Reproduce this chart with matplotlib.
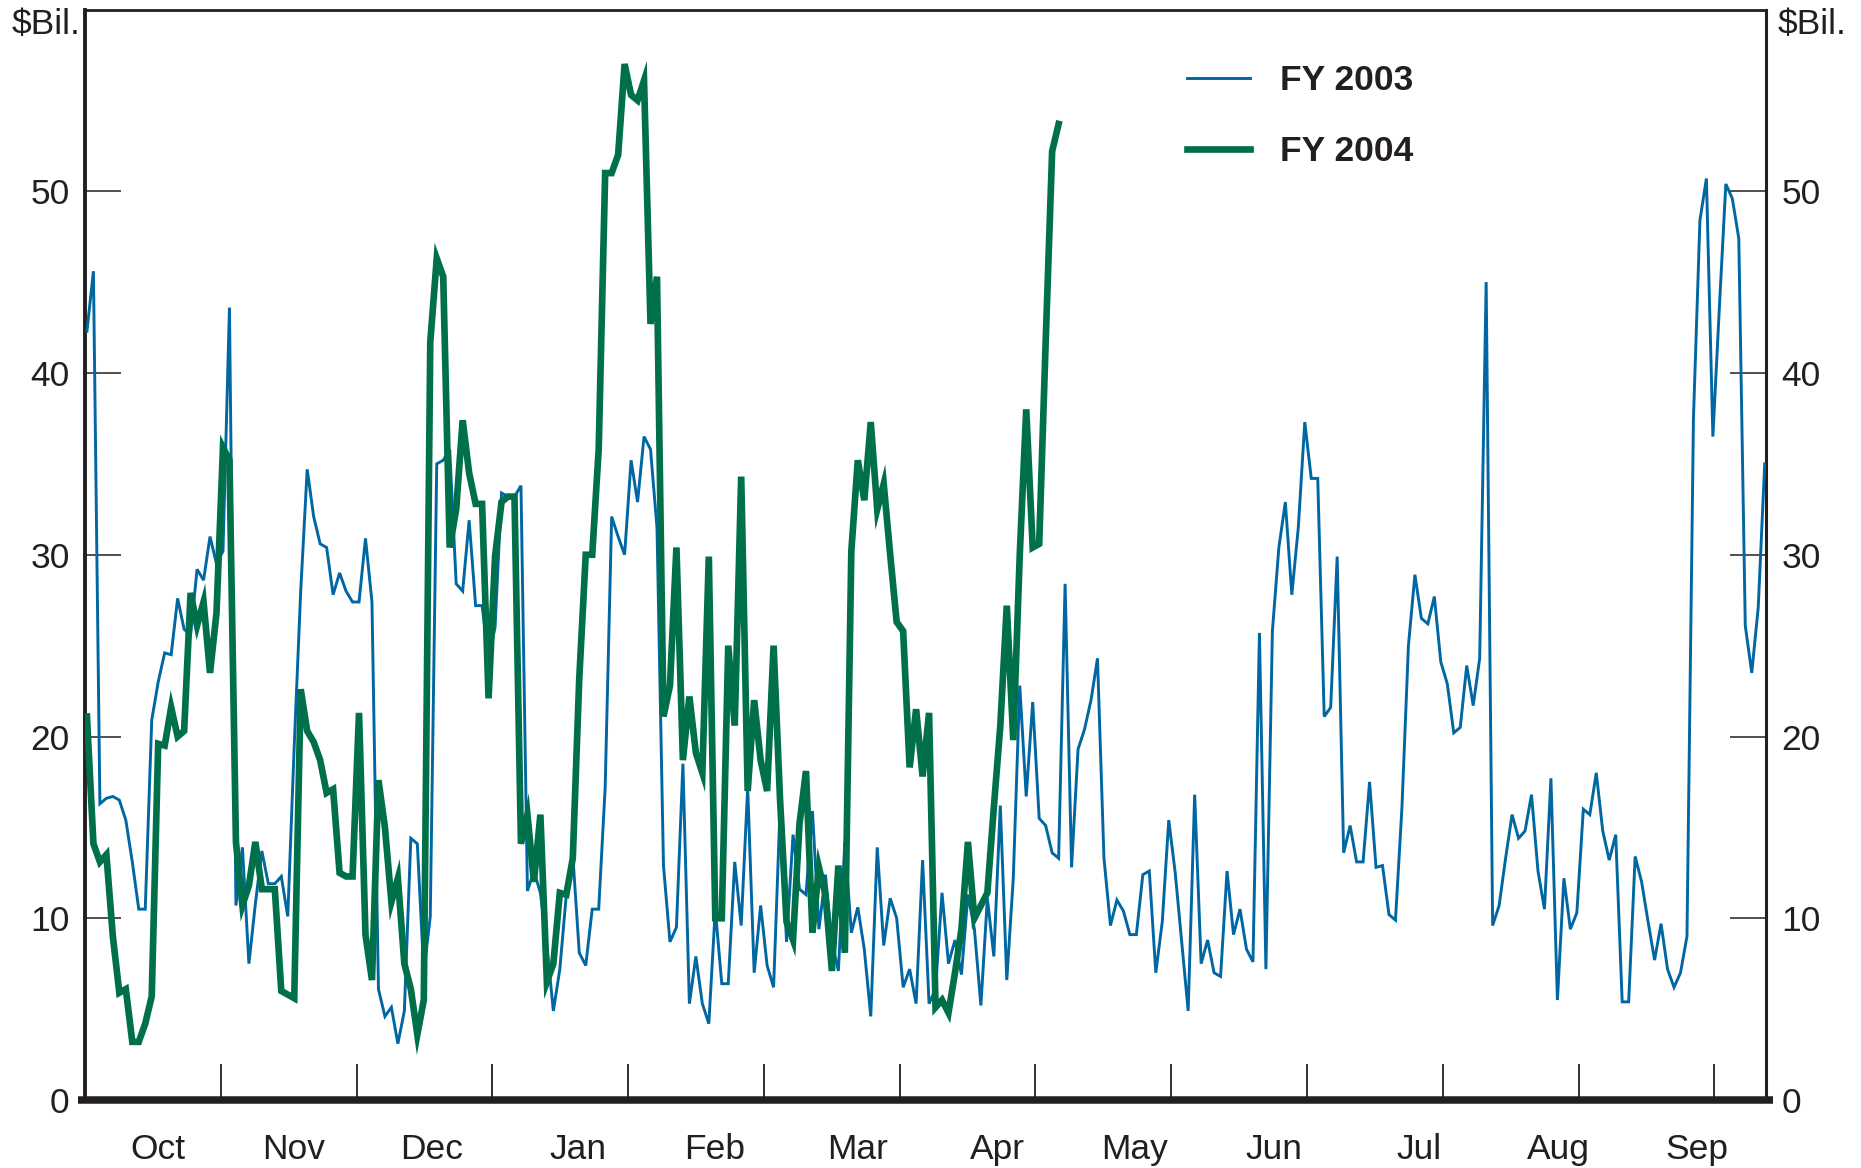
"""
Daily operating cash balance, FY 2003 vs FY 2004 ($ billions).
Two line series plotted on a business-day index, with month ticks
at the month boundaries and month names centred between them.
"""

import matplotlib

matplotlib.use("Agg")
import matplotlib.pyplot as plt

# ---- data -------------------------------------------------------------------
MONTHS = ["Oct", "Nov", "Dec", "Jan", "Feb", "Mar",
          "Apr", "May", "Jun", "Jul", "Aug", "Sep"]

# FY 2003, one value per business day
FY2003 = [
    42.3, 45.6, 16.3, 16.6, 16.7, 16.5, 15.4, 13.1, 10.5, 10.5,
    20.9, 23.0, 24.6, 24.5, 27.6, 25.9, 25.6, 29.2, 28.6, 31.0,
    29.5, 30.2, 43.6, 10.7, 13.9, 7.5, 10.8, 13.7, 11.9, 11.9,
    12.3, 10.1, 19.5, 28.0, 34.7, 32.1, 30.6, 30.4, 27.8, 29.0,
    28.0, 27.4, 27.4, 30.9, 27.4, 6.1, 4.6, 5.1, 3.1, 4.9,
    14.4, 14.1, 7.0, 10.1, 35.0, 35.2, 35.8, 28.4, 28.0, 31.9,
    27.2, 27.2, 24.3, 26.0, 33.4, 33.2, 33.2, 33.8, 11.5, 12.6,
    11.4, 8.5, 4.9, 7.2, 11.3, 13.5, 8.1, 7.4, 10.5, 10.5,
    17.2, 32.1, 31.0, 30.0, 35.2, 32.9, 36.5, 35.8, 31.5, 12.9,
    8.7, 9.5, 18.5, 5.3, 7.9, 5.3, 4.2, 10.5, 6.4, 6.4,
    13.1, 9.6, 17.2, 7.0, 10.7, 7.4, 6.2, 16.1, 8.7, 14.6,
    11.6, 11.3, 15.9, 9.4, 12.4, 8.7, 7.1, 14.2, 9.2, 10.6,
    8.3, 4.6, 13.9, 8.5, 11.1, 10.0, 6.2, 7.2, 5.3, 13.2,
    5.3, 6.1, 11.4, 7.5, 8.8, 6.9, 11.3, 9.4, 5.2, 11.1,
    7.9, 16.2, 6.6, 12.2, 22.8, 16.7, 21.9, 15.5, 15.1, 13.6,
    13.3, 28.4, 12.8, 19.3, 20.4, 22.0, 24.3, 13.3, 9.6, 11.0,
    10.4, 9.1, 9.1, 12.4, 12.6, 7.0, 9.8, 15.4, 12.5, 8.7,
    4.9, 16.8, 7.5, 8.8, 7.0, 6.8, 12.6, 9.1, 10.5, 8.3,
    7.6, 25.7, 7.2, 25.8, 30.4, 32.9, 27.8, 31.5, 37.3, 34.2,
    34.2, 21.1, 21.6, 29.9, 13.6, 15.1, 13.1, 13.1, 17.5, 12.8,
    12.9, 10.2, 9.9, 16.1, 25.0, 28.9, 26.5, 26.2, 27.7, 24.1,
    22.9, 20.2, 20.5, 23.9, 21.7, 24.3, 45.0, 9.6, 10.7, 13.3,
    15.7, 14.4, 14.8, 16.8, 12.6, 10.5, 17.7, 5.5, 12.2, 9.4,
    10.3, 16.0, 15.7, 18.0, 14.8, 13.2, 14.6, 5.4, 5.4, 13.4,
    12.0, 9.8, 7.7, 9.7, 7.2, 6.2, 7.0, 9.0, 37.5, 48.4,
    50.7, 36.5, 43.6, 50.4, 49.6, 47.4, 26.1, 23.5, 27.1, 35.0,
]

# FY 2004, through mid April
FY2004 = [
    21.1, 14.1, 13.1, 13.5, 9.0, 5.9, 6.1, 3.2, 3.2, 4.2,
    5.7, 19.6, 19.5, 21.6, 20.0, 20.3, 27.9, 26.1, 27.4, 23.5,
    26.8, 35.9, 35.2, 14.2, 10.7, 11.8, 14.2, 11.6, 11.6, 11.6,
    6.0, 5.8, 5.6, 22.6, 20.3, 19.7, 18.7, 16.9, 17.1, 12.5,
    12.3, 12.3, 21.3, 9.1, 6.6, 17.6, 15.0, 10.9, 12.2, 7.5,
    6.1, 3.6, 5.5, 41.7, 46.3, 45.3, 30.4, 32.5, 37.4, 34.5,
    32.8, 32.8, 22.1, 29.9, 32.9, 33.2, 33.2, 14.1, 15.7, 12.0,
    15.7, 6.5, 7.5, 11.4, 11.3, 13.3, 23.2, 30.0, 30.0, 35.8,
    51.0, 51.0, 52.0, 57.0, 55.3, 55.0, 56.1, 42.7, 45.3, 21.1,
    22.8, 30.4, 18.7, 22.2, 19.1, 18.0, 29.9, 10.0, 10.0, 25.0,
    20.6, 34.3, 17.0, 22.0, 18.7, 17.0, 25.0, 16.5, 9.8, 8.8,
    15.2, 18.1, 9.2, 12.8, 11.3, 7.1, 12.9, 8.1, 30.2, 35.2,
    33.0, 37.3, 32.5, 33.9, 30.0, 26.3, 25.8, 18.3, 21.5, 17.8,
    21.3, 5.1, 5.5, 4.8, 7.0, 9.4, 14.2, 10.0, 10.7, 11.4,
    16.1, 20.6, 27.2, 19.8, 30.0, 38.0, 30.4, 30.6, 41.7, 52.2,
    53.7,
]

Y_TICKS = [0, 10, 20, 30, 40, 50]

# ---- layout (business-day index units) ----------------------------------------
X_MIN, X_MAX = -0.3, 259.2
MONTH_STEP = 20.96                      # days between month boundary ticks
LABEL_POS = [10.97, 31.96, 53.27, 75.8, 96.95, 118.9,
             140.5, 161.8, 183.2, 205.7, 227.2, 248.5]

BLUE = "#0067a3"
GREEN = "#00704a"
INK = "#231f20"
FONT = "Liberation Sans"


def draw_chart(save_path: str = "out.png") -> None:
    """画图并保存"""
    plt.rcParams["font.family"] = [FONT, "DejaVu Sans"]

    fig = plt.figure(figsize=(18.61, 11.68), dpi=100)
    ax = fig.add_axes([85 / 1861, 1 - 1100 / 1168,
                       (1766 - 85) / 1861, (1100 - 9.5) / 1168])

    x03 = list(range(len(FY2003)))
    x04 = list(range(len(FY2004)))
    ax.plot(x03, FY2003, color=BLUE, lw=2.1, solid_joinstyle="miter",
            label="FY 2003", zorder=3)
    ax.plot(x04, FY2004, color=GREEN, lw=4.8, solid_joinstyle="miter",
            label="FY 2004", zorder=4)

    ax.set_xlim(X_MIN, X_MAX)
    ax.set_ylim(0, 60)

    # spines
    for side in ("left", "top", "right"):
        ax.spines[side].set_color(INK)
    ax.spines["left"].set_linewidth(2.8)
    ax.spines["top"].set_linewidth(2.0)
    ax.spines["right"].set_linewidth(2.2)
    ax.spines["bottom"].set_visible(False)
    # thick zero line, running a bit past both side spines
    ax.plot([-0.004, 1.004], [0, 0], transform=ax.get_yaxis_transform(),
            color=INK, lw=5.4, solid_capstyle="butt", clip_on=False, zorder=5)

    # y axis on both sides
    ax.set_yticks(Y_TICKS)
    ax.tick_params(axis="y", which="major", direction="in", length=26,
                   width=1.1, color=INK, labelsize=25.5, labelcolor=INK,
                   left=True, right=True, labelleft=True, labelright=True,
                   pad=11)

    # x axis: boundary ticks, labels in between
    month_ticks = [X_MIN + MONTH_STEP * k for k in range(1, 13)]
    ax.set_xticks(month_ticks)
    ax.set_xticklabels([])
    ax.set_xticks(LABEL_POS, minor=True)
    ax.set_xticklabels(MONTHS, minor=True)
    ax.tick_params(axis="x", which="major", direction="in", length=26,
                   width=1.3, color=INK)
    ax.tick_params(axis="x", which="minor", length=0, labelsize=25.5,
                   labelcolor=INK, pad=24)

    # unit labels
    fig.text(12 / 1861, 1 - 25 / 1168, "$Bil.", fontsize=25.5, color=INK,
             ha="left", va="center")
    fig.text(1778 / 1861, 1 - 25 / 1168, "$Bil.", fontsize=25.5, color=INK,
             ha="left", va="center")

    leg = ax.legend(loc="upper left", bbox_to_anchor=(1187 / 1861, 1 - 64 / 1168),
                    bbox_transform=fig.transFigure, frameon=False,
                    borderpad=0, borderaxespad=0, handlelength=1.78,
                    handletextpad=0.85, labelspacing=1.08,
                    prop={"family": FONT, "weight": "bold", "size": 25.5})
    for text in leg.get_texts():
        text.set_color(INK)

    fig.savefig(save_path, dpi=100)
    plt.close(fig)


def main() -> None:
    draw_chart("out.png")


if __name__ == "__main__":
    main()
